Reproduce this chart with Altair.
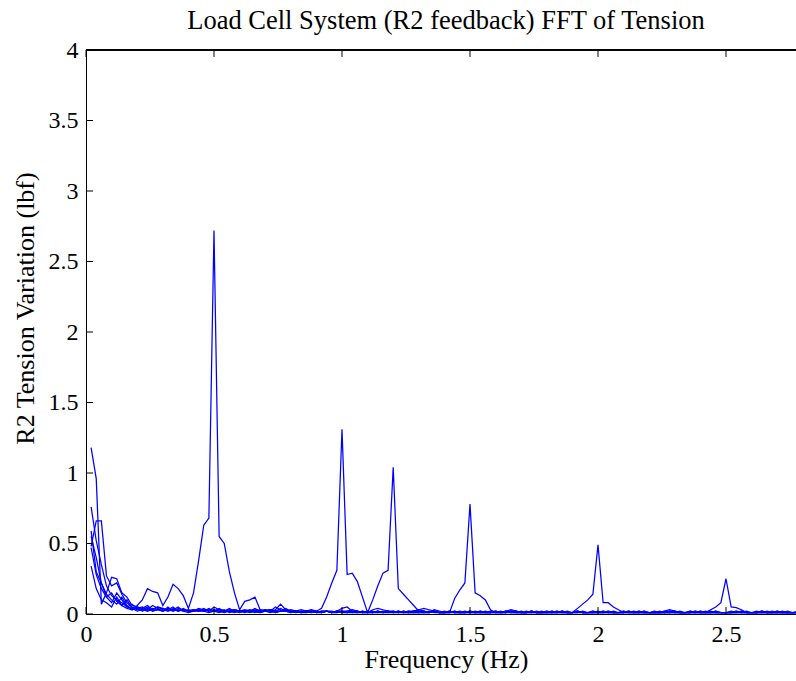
import altair as alt
import pandas as pd

# Frequency bins (Hz)
freq_hz = [round(0.02 * k, 2) for k in range(1, 141)]

# FFT amplitude (lbf) of each test run
run_free = [1.18, 0.96, 0.07, 0.15, 0.26, 0.25, 0.15, 0.12, 0.06, 0.05,
            0.04, 0.06, 0.03, 0.05, 0.04, 0.03, 0.02, 0.04, 0.03, 0.02,
            0.03, 0.02, 0.04, 0.02, 0.03, 0.02, 0.01, 0.02, 0.03, 0.02,
            0.02, 0.01, 0.02, 0.03, 0.02, 0.01, 0.02, 0.02, 0.03, 0.02,
            0.01, 0.02, 0.01, 0.02, 0.01, 0.02, 0.02, 0.01, 0.02, 0.01,
            0.02, 0.01, 0.01, 0.02, 0.01, 0.01, 0.02, 0.01, 0.01, 0.02,
            0.01, 0.01, 0.02, 0.01, 0.01, 0.01, 0.02, 0.01, 0.01, 0.01,
            0.01, 0.02, 0.01, 0.01, 0.01, 0.01, 0.02, 0.01, 0.01, 0.01,
            0.01, 0.01, 0.02, 0.01, 0.01, 0.01, 0.01, 0.02, 0.01, 0.01,
            0.01, 0.01, 0.01, 0.02, 0.01, 0.01, 0.01, 0.01, 0.02, 0.01,
            0.01, 0.01, 0.01, 0.01, 0.02, 0.01, 0.01, 0.01, 0.01, 0.01,
            0.01, 0.02, 0.01, 0.01, 0.01, 0.01, 0.01, 0.02, 0.01, 0.01,
            0.01, 0.01, 0.01, 0.01, 0.01, 0.02, 0.01, 0.01, 0.01, 0.01,
            0.01, 0.01, 0.02, 0.01, 0.01, 0.01, 0.01, 0.01, 0.01, 0.01]

run_05hz = [0.76, 0.52, 0.35, 0.20, 0.13, 0.10, 0.08, 0.05, 0.04, 0.06,
            0.10, 0.18, 0.16, 0.15, 0.06, 0.12, 0.21, 0.18, 0.13, 0.04,
            0.15, 0.38, 0.63, 0.68, 2.72, 0.55, 0.50, 0.30, 0.15, 0.03,
            0.09, 0.10, 0.12, 0.03, 0.02, 0.03, 0.02, 0.04, 0.02, 0.03,
            0.02, 0.01, 0.02, 0.03, 0.02, 0.01, 0.02, 0.01, 0.02, 0.04,
            0.05, 0.02, 0.01, 0.02, 0.01, 0.01, 0.02, 0.01, 0.02, 0.01,
            0.02, 0.01, 0.01, 0.02, 0.01, 0.01, 0.01, 0.02, 0.01, 0.01,
            0.01, 0.01, 0.02, 0.01, 0.01, 0.02, 0.01, 0.01, 0.01, 0.02,
            0.01, 0.02, 0.01, 0.01, 0.02, 0.01, 0.01, 0.01, 0.02, 0.01,
            0.01, 0.01, 0.02, 0.01, 0.01, 0.01, 0.02, 0.01, 0.01, 0.01,
            0.02, 0.01, 0.01, 0.01, 0.01, 0.02, 0.01, 0.01, 0.01, 0.01,
            0.01, 0.01, 0.01, 0.02, 0.01, 0.01, 0.01, 0.01, 0.02, 0.01,
            0.01, 0.01, 0.01, 0.01, 0.01, 0.01, 0.02, 0.01, 0.01, 0.01,
            0.01, 0.02, 0.01, 0.01, 0.01, 0.01, 0.01, 0.01, 0.02, 0.01]

run_10hz = [0.59, 0.30, 0.22, 0.12, 0.08, 0.15, 0.10, 0.05, 0.07, 0.04,
            0.05, 0.03, 0.06, 0.04, 0.02, 0.04, 0.03, 0.05, 0.02, 0.03,
            0.02, 0.04, 0.03, 0.02, 0.05, 0.03, 0.02, 0.04, 0.02, 0.02,
            0.03, 0.02, 0.04, 0.02, 0.03, 0.02, 0.03, 0.07, 0.03, 0.02,
            0.02, 0.03, 0.02, 0.01, 0.02, 0.04, 0.12, 0.22, 0.31, 1.31,
            0.28, 0.29, 0.23, 0.12, 0.01, 0.03, 0.04, 0.03, 0.02, 0.02,
            0.01, 0.02, 0.01, 0.02, 0.03, 0.02, 0.01, 0.02, 0.01, 0.01,
            0.02, 0.01, 0.01, 0.02, 0.01, 0.01, 0.02, 0.01, 0.01, 0.02,
            0.01, 0.01, 0.02, 0.01, 0.01, 0.02, 0.01, 0.01, 0.01, 0.02,
            0.01, 0.02, 0.01, 0.01, 0.01, 0.02, 0.01, 0.01, 0.02, 0.01,
            0.01, 0.01, 0.02, 0.01, 0.01, 0.01, 0.02, 0.01, 0.01, 0.01,
            0.02, 0.01, 0.01, 0.01, 0.02, 0.01, 0.01, 0.01, 0.01, 0.02,
            0.01, 0.01, 0.02, 0.01, 0.01, 0.01, 0.01, 0.02, 0.01, 0.01,
            0.01, 0.01, 0.01, 0.02, 0.01, 0.01, 0.01, 0.01, 0.01, 0.01]

run_12hz = [0.48, 0.66, 0.66, 0.27, 0.20, 0.22, 0.14, 0.08, 0.05, 0.03,
            0.04, 0.02, 0.03, 0.05, 0.03, 0.02, 0.04, 0.02, 0.03, 0.02,
            0.03, 0.02, 0.02, 0.04, 0.02, 0.03, 0.02, 0.02, 0.01, 0.02,
            0.02, 0.03, 0.02, 0.01, 0.02, 0.02, 0.05, 0.03, 0.02, 0.02,
            0.01, 0.02, 0.02, 0.01, 0.02, 0.01, 0.02, 0.02, 0.01, 0.02,
            0.02, 0.03, 0.02, 0.01, 0.01, 0.10, 0.20, 0.29, 0.31, 1.04,
            0.18, 0.14, 0.10, 0.06, 0.02, 0.02, 0.01, 0.02, 0.01, 0.01,
            0.02, 0.01, 0.01, 0.01, 0.02, 0.01, 0.01, 0.02, 0.01, 0.01,
            0.01, 0.02, 0.01, 0.01, 0.01, 0.01, 0.02, 0.01, 0.01, 0.01,
            0.02, 0.01, 0.01, 0.01, 0.01, 0.02, 0.01, 0.01, 0.01, 0.01,
            0.01, 0.02, 0.01, 0.01, 0.01, 0.01, 0.01, 0.02, 0.01, 0.01,
            0.01, 0.01, 0.01, 0.01, 0.02, 0.01, 0.01, 0.01, 0.01, 0.01,
            0.02, 0.01, 0.01, 0.01, 0.01, 0.01, 0.01, 0.01, 0.02, 0.01,
            0.01, 0.01, 0.01, 0.01, 0.02, 0.01, 0.01, 0.01, 0.01, 0.01]

run_15hz = [0.47, 0.28, 0.18, 0.12, 0.15, 0.09, 0.06, 0.10, 0.04, 0.02,
            0.03, 0.05, 0.02, 0.03, 0.04, 0.02, 0.03, 0.02, 0.04, 0.02,
            0.02, 0.03, 0.02, 0.03, 0.02, 0.04, 0.02, 0.02, 0.03, 0.02,
            0.02, 0.02, 0.03, 0.02, 0.02, 0.03, 0.02, 0.02, 0.04, 0.02,
            0.02, 0.01, 0.02, 0.02, 0.01, 0.02, 0.02, 0.01, 0.02, 0.02,
            0.01, 0.02, 0.02, 0.01, 0.02, 0.01, 0.02, 0.01, 0.02, 0.01,
            0.02, 0.01, 0.02, 0.02, 0.03, 0.04, 0.03, 0.02, 0.01, 0.02,
            0.01, 0.11, 0.17, 0.22, 0.78, 0.15, 0.13, 0.10, 0.03, 0.01,
            0.02, 0.01, 0.02, 0.02, 0.01, 0.01, 0.02, 0.01, 0.01, 0.02,
            0.01, 0.01, 0.02, 0.01, 0.01, 0.02, 0.01, 0.01, 0.01, 0.02,
            0.01, 0.02, 0.01, 0.01, 0.01, 0.02, 0.01, 0.01, 0.02, 0.01,
            0.01, 0.01, 0.01, 0.02, 0.01, 0.01, 0.01, 0.02, 0.01, 0.01,
            0.01, 0.02, 0.01, 0.01, 0.01, 0.01, 0.02, 0.01, 0.01, 0.01,
            0.02, 0.01, 0.01, 0.01, 0.01, 0.02, 0.01, 0.01, 0.01, 0.01]

run_20hz = [0.34, 0.18, 0.10, 0.08, 0.05, 0.12, 0.06, 0.04, 0.03, 0.05,
            0.02, 0.04, 0.02, 0.03, 0.02, 0.05, 0.02, 0.03, 0.02, 0.01,
            0.02, 0.03, 0.02, 0.01, 0.02, 0.02, 0.03, 0.01, 0.02, 0.02,
            0.01, 0.02, 0.02, 0.01, 0.02, 0.03, 0.01, 0.02, 0.02, 0.01,
            0.02, 0.01, 0.02, 0.02, 0.01, 0.01, 0.02, 0.01, 0.02, 0.01,
            0.01, 0.02, 0.01, 0.01, 0.02, 0.01, 0.01, 0.02, 0.01, 0.01,
            0.02, 0.01, 0.01, 0.01, 0.02, 0.01, 0.01, 0.03, 0.02, 0.01,
            0.01, 0.02, 0.01, 0.01, 0.02, 0.01, 0.01, 0.01, 0.02, 0.01,
            0.01, 0.02, 0.03, 0.02, 0.01, 0.01, 0.02, 0.01, 0.01, 0.01,
            0.02, 0.01, 0.02, 0.01, 0.01, 0.04, 0.07, 0.10, 0.14, 0.49,
            0.08, 0.08, 0.05, 0.03, 0.01, 0.02, 0.01, 0.01, 0.02, 0.01,
            0.01, 0.01, 0.02, 0.01, 0.01, 0.02, 0.01, 0.01, 0.01, 0.02,
            0.01, 0.01, 0.02, 0.01, 0.01, 0.01, 0.01, 0.02, 0.01, 0.01,
            0.01, 0.02, 0.01, 0.01, 0.01, 0.01, 0.02, 0.01, 0.01, 0.01]

run_25hz = [0.55, 0.40, 0.22, 0.14, 0.10, 0.07, 0.12, 0.06, 0.03, 0.04,
            0.03, 0.02, 0.04, 0.03, 0.02, 0.03, 0.05, 0.02, 0.03, 0.02,
            0.02, 0.02, 0.03, 0.02, 0.02, 0.01, 0.02, 0.03, 0.02, 0.01,
            0.02, 0.02, 0.01, 0.02, 0.03, 0.02, 0.01, 0.02, 0.02, 0.01,
            0.02, 0.01, 0.01, 0.02, 0.02, 0.01, 0.02, 0.01, 0.01, 0.02,
            0.01, 0.01, 0.02, 0.01, 0.01, 0.02, 0.01, 0.01, 0.02, 0.01,
            0.01, 0.02, 0.01, 0.01, 0.01, 0.02, 0.01, 0.02, 0.01, 0.01,
            0.02, 0.01, 0.01, 0.01, 0.02, 0.01, 0.01, 0.01, 0.01, 0.02,
            0.01, 0.01, 0.01, 0.02, 0.01, 0.01, 0.02, 0.01, 0.01, 0.01,
            0.01, 0.02, 0.01, 0.01, 0.01, 0.02, 0.01, 0.01, 0.01, 0.01,
            0.02, 0.01, 0.01, 0.01, 0.02, 0.01, 0.01, 0.02, 0.01, 0.01,
            0.01, 0.01, 0.02, 0.03, 0.02, 0.01, 0.01, 0.01, 0.02, 0.01,
            0.01, 0.03, 0.05, 0.08, 0.25, 0.05, 0.045, 0.03, 0.01, 0.01,
            0.01, 0.02, 0.01, 0.01, 0.02, 0.01, 0.01, 0.01, 0.01, 0.02]

runs = {
    "no drive": run_free,
    "0.5 Hz": run_05hz,
    "1.0 Hz": run_10hz,
    "1.2 Hz": run_12hz,
    "1.5 Hz": run_15hz,
    "2.0 Hz": run_20hz,
    "2.5 Hz": run_25hz,
}

x_ticks = [0, 0.5, 1, 1.5, 2, 2.5]
y_ticks = [0, 0.5, 1, 1.5, 2, 2.5, 3, 3.5, 4]

rows = []
for name, vals in runs.items():
    for f, v in zip(freq_hz, vals):
        rows.append({"run": name, "freq": f, "amp": v})
df = pd.DataFrame(rows)
xt_df = pd.DataFrame({"freq": x_ticks})
yt_df = pd.DataFrame({"amp": y_ticks})

FONT = "Liberation Serif"
W, H = 710, 564
TICK = 7

xscale = alt.Scale(domain=[0, 2.7734], nice=False, zero=False)
yscale = alt.Scale(domain=[0, 4], nice=False, zero=False)

x_axis = alt.Axis(values=x_ticks, format="~g", title="Frequency (Hz)",
                  orient="bottom", ticks=False, tickSize=0, grid=False,
                  domainColor="black", domainWidth=1,
                  labelFont=FONT, labelFontSize=24, labelColor="black",
                  labelPadding=8, labelFlush=False, labelOverlap=False,
                  titleFont=FONT, titleFontSize=26, titleFontWeight="normal",
                  titleColor="black", titleX=360, titleY=53,
                  titleBaseline="alphabetic")
y_axis = alt.Axis(values=y_ticks, format="~g", title="R2 Tension Variation (lbf)",
                  orient="left", ticks=False, tickSize=0, grid=False,
                  domainColor="black", domainWidth=1,
                  labelFont=FONT, labelFontSize=24, labelColor="black",
                  labelPadding=8, labelFlush=False, labelOverlap=False,
                  titleFont=FONT, titleFontSize=26, titleFontWeight="normal",
                  titleColor="black", titlePadding=10, titleY=258)

X = alt.X("freq:Q", scale=xscale, axis=x_axis)
Y = alt.Y("amp:Q", scale=yscale, axis=y_axis)

lines = alt.Chart(df).mark_line(color="#0000ff", strokeWidth=1.25, clip=True).encode(
    x=X, y=Y, detail="run:N",
)

# top frame line (plot box)
top_line = alt.Chart(xt_df).mark_rule(color="black", strokeWidth=1).encode(
    x=alt.value(0), x2=alt.value(W), y=alt.value(0)
)

# inward tick marks (MATLAB style)
top_ticks = alt.Chart(xt_df).mark_rule(color="black", strokeWidth=1).encode(
    x=X, y=alt.value(0), y2=alt.value(TICK),
)
bottom_ticks = alt.Chart(xt_df).mark_rule(color="black", strokeWidth=1).encode(
    x=X, y=alt.value(H), y2=alt.value(H - TICK),
)
left_ticks = alt.Chart(yt_df).mark_rule(color="black", strokeWidth=1).encode(
    y=Y, x=alt.value(0), x2=alt.value(TICK),
)

chart = alt.layer(lines, top_line, top_ticks, bottom_ticks, left_ticks).properties(
    width=W,
    height=H,
    autosize=alt.AutoSizeParams(type="none"),
    padding={"left": 86, "top": 50, "right": 0, "bottom": 67},
    title=alt.TitleParams(
        text="Load Cell System (R2 feedback) FFT of Tension",
        font=FONT, fontSize=26.5, fontWeight="normal", color="black",
        anchor="middle", frame="group", dx=5, offset=4,
    ),
).configure_view(stroke=None).configure(background="white")

chart.save("out.html", embed_options={"renderer": "svg", "actions": False})
